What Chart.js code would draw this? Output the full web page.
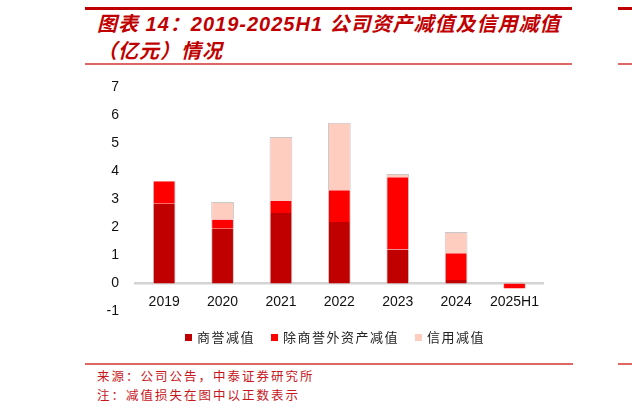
<!DOCTYPE html>
<html>
<head>
<meta charset="utf-8">
<script src="https://cdn.jsdelivr.net/npm/chart.js@4.4.1/dist/chart.umd.min.js"></script>
<style>
  body { margin: 0; width: 632px; height: 412px; background: #fff; position: relative; overflow: hidden;
         font-family: "Noto Sans CJK SC", sans-serif; }
  .rule { position: absolute; background: #c00000; }
  .title { position: absolute; left: 97px; color: #c00000; font-weight: bold; font-style: italic;
           font-family: "Liberation Sans", "Noto Sans CJK SC", sans-serif;
           font-size: 20px; letter-spacing: 1px; line-height: 27px; white-space: nowrap; }
  .note { position: absolute; left: 97px; color: #c8161d; font-size: 12.5px; letter-spacing: 2px; white-space: nowrap; }
  #legend { position: absolute; top: 327px; left: 185px; font-size: 13px; letter-spacing: 1.5px; color: #222; white-space: nowrap; }
  #legend span.box { display: inline-block; width: 7px; height: 7px; margin-right: 5px; vertical-align: 1px; }
  #legend span.item { margin-right: 16px; }
  #wrap { position: absolute; left: 92px; top: 63px; width: 457px; height: 273px; }
</style>
</head>
<body>
<div class="rule" style="left:85px;top:7px;width:487px;height:3px;"></div>
<div class="rule" style="left:618px;top:7px;width:14px;height:3px;"></div>
<div class="title" style="top:11px;">图表 14：2019-2025H1 公司资产减值及信用减值</div>
<div class="title" style="top:38px;">（亿元）情况</div>
<div class="rule" style="left:85px;top:63px;width:487px;height:2px;background:#e06666;"></div>
<div class="rule" style="left:618px;top:63px;width:14px;height:2px;background:#e06666;"></div>

<div id="wrap"><canvas id="c"></canvas></div>
<div id="legend"></div>

<div class="rule" style="left:85px;top:363px;width:488px;height:2px;background:#e06666;"></div>
<div class="rule" style="left:618px;top:363px;width:14px;height:2px;background:#e06666;"></div>
<div class="note" style="top:366px;">来源：公司公告，中泰证券研究所</div>
<div class="note" style="top:385px;">注：减值损失在图中以正数表示</div>

<script>
const years = ['2019', '2020', '2021', '2022', '2023', '2024', '2025H1'];
const goodwill = [2.85, 1.96, 2.52, 2.20, 1.22, 0.13, 0];
const otherAssets = [0.80, 0.33, 0.43, 1.13, 2.57, 0.95, -0.18];
const credit = [0, 0.62, 2.28, 2.41, 0.12, 0.76, 0];
const yTicks = [-1, 0, 1, 2, 3, 4, 5, 6, 7];

const seriesNames = ['商誉减值', '除商誉外资产减值', '信用减值'];
const colors = { dark: '#c00000', red: '#ff0000', pink: '#ffccc0' };

Chart.defaults.font.family = "'Liberation Sans', Arial, sans-serif";
Chart.defaults.font.size = 14;
Chart.defaults.color = '#111';
Chart.defaults.animation = false;

const side = { left: 1, right: 1, top: 0, bottom: 0 };

const data = {
    labels: years,
    datasets: [
        { label: seriesNames[0], data: goodwill, backgroundColor: colors.dark, borderColor: '#c8c8c8', borderWidth: side },
        { label: seriesNames[1], data: otherAssets, backgroundColor: colors.red, borderColor: '#c8c8c8', borderWidth: side },
        { label: seriesNames[2], data: credit, backgroundColor: colors.pink, borderColor: '#c8c8c8',
          borderWidth: { left: 1, right: 1, top: 1, bottom: 0 } }
    ]
};

new Chart(document.getElementById('c'), {
    type: 'bar',
    data,
    options: {
        responsive: true,
        maintainAspectRatio: false,
        layout: { padding: { top: 16, bottom: 9, left: 0, right: 0 } },
        datasets: { bar: { barPercentage: 0.39, categoryPercentage: 1 } },
        plugins: { legend: { display: false }, tooltip: { enabled: false } },
        scales: {
            x: {
                stacked: true,
                position: { y: 0 },
                grid: { display: false, drawTicks: false },
                border: { display: true, color: '#d4d4d4', width: 2.5 },
                ticks: { padding: 10 }
            },
            y: {
                stacked: true,
                min: yTicks[0],
                max: yTicks[yTicks.length - 1],
                grid: { display: false, drawTicks: false },
                border: { display: false },
                ticks: { stepSize: 1, padding: 16 },
                afterFit: s => { s.width = 43; }
            }
        }
    }
});

const legend = document.getElementById('legend');
data.datasets.forEach(ds => {
    const item = document.createElement('span');
    item.className = 'item';
    item.innerHTML = '<span class="box" style="background:' + ds.backgroundColor + '"></span>' + ds.label;
    legend.appendChild(item);
});
</script>
</body>
</html>
